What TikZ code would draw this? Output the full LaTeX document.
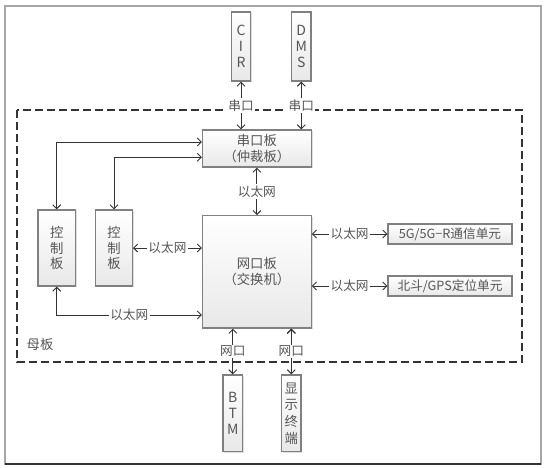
\documentclass[tikz,border=0pt]{standalone}
\usepackage{fontspec}
\setmainfont{Noto Sans CJK SC}
\usepackage{xcolor}
\definecolor{txtgray}{RGB}{85,85,85}
\definecolor{linegray}{RGB}{51,51,51}
\definecolor{boxedge}{RGB}{128,128,128}
\usetikzlibrary{arrows.meta,shadows}

\begin{document}
\begin{tikzpicture}[x=0.75pt,y=-0.75pt,>={Straight Barb[length=3pt,width=6pt]},line width=0.7pt]
        \tikzstyle{board}=[draw=boxedge,line width=1pt,top color=white,bottom color=black!9,text=txtgray,align=center,inner sep=0pt,
                           font=\fontsize{10}{12}\selectfont,drop shadow={shadow xshift=1pt,shadow yshift=-1pt,opacity=0.25}]
        \tikzstyle{tall}=[board,minimum width=14.7pt,minimum height=51.75pt,font=\fontsize{10.5}{12}\selectfont]
        \tikzstyle{ctrl}=[board,minimum width=28pt,minimum height=57pt,font=\fontsize{10}{11.5}\selectfont]
        \tikzstyle{unit}=[board,minimum width=93pt,minimum height=15pt,font=\fontsize{9.5}{11}\selectfont]
        \tikzstyle{lbl}=[fill=white,inner sep=1pt,text=txtgray,font=\fontsize{9.5}{11}\selectfont]
        \tikzstyle{link}=[<->,draw=linegray]

        \useasboundingbox (0,0) rectangle (547,468);
        \draw[gray!70,line width=1.5pt] (5,6) rectangle (541,464);
        \draw[linegray,line width=1.2pt] (5,464) -- (541,464);
        \draw[linegray,line width=0.8pt,dash pattern=on 6pt off 3pt] (17,110) rectangle (522,362);
        \node[text=txtgray,font=\fontsize{10}{12}\selectfont] (mb) at (40,344) {母板};

        \node[tall] (CIR) at (241,46.5)  {C\\I\\R};
        \node[tall] (DMS) at (301.3,46.5) {D\\M\\S};
        \node[board,minimum width=81.5pt,minimum height=27.75pt] (serial) at (256.9,148.5) {串口板\\（仲裁板）};
        \node[board,minimum width=81.5pt,minimum height=84.2pt] (net) at (256.9,271.9) {网口板\\（交换机）};
        \node[ctrl] (ctrlA) at (56.7,248) {控\\制\\板};
        \node[ctrl,minimum width=27.5pt] (ctrlB) at (114,248) {控\\制\\板};
        \node[unit] (g5) at (450,234) {5G/5G−R通信单元};
        \node[unit] (bd) at (450,286) {北斗/GPS定位单元};
        \node[tall,minimum height=57.5pt] (BTM) at (232.8,413.3) {B\\T\\M};
        \node[tall,minimum height=57.5pt,font=\fontsize{10}{12.5}\selectfont] (disp) at (291.3,413.3) {显\\示\\终\\端};

        \path[link] (CIR.south) edge node[lbl] {串口} (CIR.south |- serial.north)
                    (DMS.south) edge node[lbl] {串口} (DMS.south |- serial.north)
                    (serial.south) edge node[lbl] {以太网} (net.north)
                    (ctrlB.east) edge node[lbl] {以太网} (ctrlB.east -| net.west)
                    (net.east |- g5.west) edge node[lbl] {以太网} (g5.west)
                    (net.east |- bd.west) edge node[lbl] {以太网} (bd.west)
                    (BTM.north |- net.south) edge node[lbl] {网口} (BTM.north)
                    (disp.north |- net.south) edge node[lbl] {网口} (disp.north)
        ;
        \draw[link] (ctrlA.north) |- ([yshift=4.9pt]serial.west);
        \draw[link] (ctrlB.north) |- ([yshift=-6.6pt]serial.west);
        \draw[link] (ctrlA.south) |- node[lbl,pos=0.75] {以太网} ([yshift=-32.3pt]net.west);
    \end{tikzpicture}
\end{document}
